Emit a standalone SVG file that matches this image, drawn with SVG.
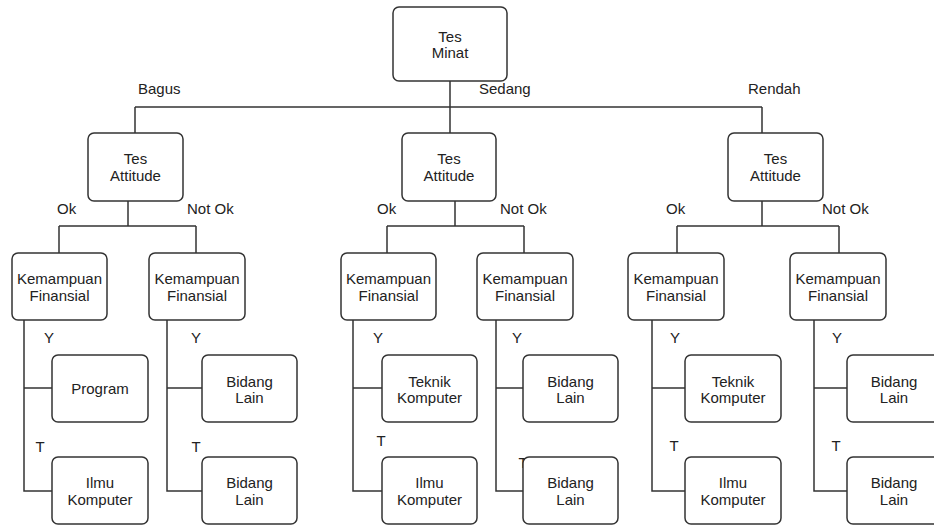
<svg xmlns="http://www.w3.org/2000/svg" width="934" height="526" viewBox="0 0 934 526">
<style>
.box{fill:#fff;stroke:#333;stroke-width:1.5}
.ln{fill:none;stroke:#333;stroke-width:1.5}
text{font-family:"Liberation Sans",Arial,sans-serif;font-size:15px;fill:#222}
.c{text-anchor:middle}
</style>
<rect width="934" height="526" fill="#fff"/>
<g id="connectors">
<path class="ln" d="M450 81V107M135 107H762M135 107V133M450 107V133M762 107V133"/>
<path class="ln" d="M128 201V226M59 226H196M59 226V253M196 226V253"/>
<path class="ln" d="M455 201V226M387 226H524M387 226V253M524 226V253"/>
<path class="ln" d="M762 201V226M677 226H839M677 226V253M839 226V253"/>
<path class="ln" d="M24 320V491H52M24 388H52"/>
<path class="ln" d="M167 320V491H202M167 388H202"/>
<path class="ln" d="M353 320V491H382M353 388H382"/>
<path class="ln" d="M496 320V491H523M496 388H523"/>
<path class="ln" d="M652 320V491H685M652 388H685"/>
<path class="ln" d="M814 320V491H847M814 388H847"/>
<text x="138" y="94">Bagus</text>
<text x="479" y="94">Sedang</text>
<text x="748" y="94">Rendah</text>
<text x="57" y="214">Ok</text>
<text x="187" y="214">Not Ok</text>
<text x="377" y="214">Ok</text>
<text x="500" y="214">Not Ok</text>
<text x="666" y="214">Ok</text>
<text x="822" y="214">Not Ok</text>
<text class="c" x="49" y="343">Y</text>
<text class="c" x="40" y="452">T</text>
<text class="c" x="196" y="343">Y</text>
<text class="c" x="196" y="452">T</text>
<text class="c" x="378" y="343">Y</text>
<text class="c" x="381" y="446">T</text>
<text class="c" x="517" y="343">Y</text>
<text class="c" x="523" y="468">T</text>
<text class="c" x="675" y="343">Y</text>
<text class="c" x="674" y="451">T</text>
<text class="c" x="837" y="343">Y</text>
<text class="c" x="836" y="451">T</text>
</g>
<g id="root"><rect class="box" x="393" y="7" width="114" height="74" rx="6"/><text class="c" x="450" y="42">Tes</text><text class="c" x="450" y="58">Minat</text></g>
<g id="attitude1"><rect class="box" x="88" y="133" width="95" height="68" rx="6"/><text class="c" x="135.5" y="164">Tes</text><text class="c" x="135.5" y="181">Attitude</text></g>
<g id="attitude2"><rect class="box" x="402" y="133" width="94" height="68" rx="6"/><text class="c" x="449" y="164">Tes</text><text class="c" x="449" y="181">Attitude</text></g>
<g id="attitude3"><rect class="box" x="728" y="133" width="95" height="68" rx="6"/><text class="c" x="775.5" y="164">Tes</text><text class="c" x="775.5" y="181">Attitude</text></g>
<g id="fin1"><rect class="box" x="12" y="253" width="95" height="67" rx="6"/><text class="c" x="59.5" y="284">Kemampuan</text><text class="c" x="59.5" y="301">Finansial</text></g>
<g id="fin2"><rect class="box" x="149" y="253" width="96" height="67" rx="6"/><text class="c" x="197" y="284">Kemampuan</text><text class="c" x="197" y="301">Finansial</text></g>
<g id="fin3"><rect class="box" x="341" y="253" width="95" height="67" rx="6"/><text class="c" x="388.5" y="284">Kemampuan</text><text class="c" x="388.5" y="301">Finansial</text></g>
<g id="fin4"><rect class="box" x="477" y="253" width="96" height="67" rx="6"/><text class="c" x="525" y="284">Kemampuan</text><text class="c" x="525" y="301">Finansial</text></g>
<g id="fin5"><rect class="box" x="628" y="253" width="96" height="67" rx="6"/><text class="c" x="676" y="284">Kemampuan</text><text class="c" x="676" y="301">Finansial</text></g>
<g id="fin6"><rect class="box" x="790" y="253" width="96" height="67" rx="6"/><text class="c" x="838" y="284">Kemampuan</text><text class="c" x="838" y="301">Finansial</text></g>
<g id="leaf1y"><rect class="box" x="52" y="355" width="96" height="67" rx="6"/><text class="c" x="100" y="394">Program</text></g>
<g id="leaf1t"><rect class="box" x="52" y="457" width="96" height="67" rx="6"/><text class="c" x="100" y="488">Ilmu</text><text class="c" x="100" y="505">Komputer</text></g>
<g id="leaf2y"><rect class="box" x="202" y="355" width="95" height="67" rx="6"/><text class="c" x="249.5" y="387">Bidang</text><text class="c" x="249.5" y="403">Lain</text></g>
<g id="leaf2t"><rect class="box" x="202" y="457" width="95" height="67" rx="6"/><text class="c" x="249.5" y="488">Bidang</text><text class="c" x="249.5" y="505">Lain</text></g>
<g id="leaf3y"><rect class="box" x="382" y="355" width="95" height="67" rx="6"/><text class="c" x="429.5" y="387">Teknik</text><text class="c" x="429.5" y="403">Komputer</text></g>
<g id="leaf3t"><rect class="box" x="382" y="457" width="95" height="67" rx="6"/><text class="c" x="429.5" y="488">Ilmu</text><text class="c" x="429.5" y="505">Komputer</text></g>
<g id="leaf4y"><rect class="box" x="523" y="355" width="95" height="67" rx="6"/><text class="c" x="570.5" y="387">Bidang</text><text class="c" x="570.5" y="403">Lain</text></g>
<g id="leaf4t"><rect class="box" x="523" y="457" width="95" height="67" rx="6"/><text class="c" x="570.5" y="488">Bidang</text><text class="c" x="570.5" y="505">Lain</text></g>
<g id="leaf5y"><rect class="box" x="685" y="355" width="96" height="67" rx="6"/><text class="c" x="733" y="387">Teknik</text><text class="c" x="733" y="403">Komputer</text></g>
<g id="leaf5t"><rect class="box" x="685" y="457" width="96" height="67" rx="6"/><text class="c" x="733" y="488">Ilmu</text><text class="c" x="733" y="505">Komputer</text></g>
<g id="leaf6y"><rect class="box" x="847" y="355" width="95" height="67" rx="6"/><text class="c" x="894" y="387">Bidang</text><text class="c" x="894" y="403">Lain</text></g>
<g id="leaf6t"><rect class="box" x="847" y="457" width="95" height="67" rx="6"/><text class="c" x="894" y="488">Bidang</text><text class="c" x="894" y="505">Lain</text></g>
</svg>
